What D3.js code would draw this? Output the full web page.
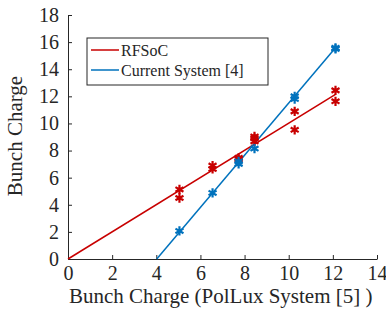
<!DOCTYPE html>
<html>
<head>
<meta charset="utf-8">
<script src="https://cdn.jsdelivr.net/npm/d3@7"></script>
<style>
  body { margin: 0; background: white; }
</style>
</head>
<body>
<div id="chart"></div>
<script>
// measured points (x = PolLux charge, y = measured charge)
const rfsocX = [5.05, 5.05, 6.55, 6.55, 7.73, 7.73, 8.45, 8.45, 8.45, 10.27, 10.27, 12.12, 12.12];
const rfsocY = [5.13, 4.5, 6.89, 6.64, 7.46, 7.35, 9.04, 8.9, 8.67, 10.89, 9.53, 12.44, 11.63];
const currentX = [5.05, 6.55, 7.73, 7.73, 8.45, 10.27, 10.27, 12.12, 12.12];
const currentY = [2.07, 4.87, 7.2, 7.01, 8.15, 12.0, 11.8, 15.58, 15.5];

// linear fits (end points)
const rfsocFitX = [0, 12.12];
const rfsocFitY = [0, 12.15];
const currentFitX = [4.02, 12.12];
const currentFitY = [0, 15.58];

const xTicks = [0, 2, 4, 6, 8, 10, 12, 14];
const yTicks = [0, 2, 4, 6, 8, 10, 12, 14, 16, 18];
const seriesNames = ["RFSoC", "Current System [4]"];
const colors = ["#C80000", "#0072BD"];

const serif = '"Liberation Serif"';

let width = 386, height = 309;
let margin = { top: 15, right: 9, bottom: 50, left: 68 };

let svg = d3.select('#chart')
    .append('svg')
    .attr('width', width)
    .attr('height', height)
    .style('background', 'white');

let xScale = d3.scaleLinear()
    .domain([0, 14])
    .range([margin.left, width - margin.right]);

let yScale = d3.scaleLinear()
    .domain([0, 18])
    .range([height - margin.bottom, margin.top]);

// axes, ticks point inward like matlab
let xaxis = svg.append('g')
    .attr('transform', `translate(0,${height - margin.bottom})`)
    .call(d3.axisBottom(xScale).tickValues(xTicks).tickSize(-4).tickPadding(7).tickSizeOuter(0));

let yaxis = svg.append('g')
    .attr('transform', `translate(${margin.left},0)`)
    .call(d3.axisLeft(yScale).tickValues(yTicks).tickSize(-4).tickPadding(9).tickSizeOuter(0));

[xaxis, yaxis].forEach(ax => {
  ax.attr('font-family', null).attr('font-size', null);
  ax.selectAll('path, line').attr('stroke', '#262626');
  ax.selectAll('text')
    .attr('fill', '#262626')
    .attr('font-family', serif)
    .attr('font-size', 20);
});

// axis labels
svg.append('text')
  .text('Bunch Charge (PolLux System [5] )')
  .attr('x', 69)
  .attr('y', 303)
  .attr('fill', '#262626')
  .attr('font-family', serif)
  .attr('font-size', 21);

svg.append('text')
  .text('Bunch Charge')
  .attr('transform', 'translate(22,136) rotate(-90)')
  .attr('text-anchor', 'middle')
  .attr('fill', '#262626')
  .attr('font-family', serif)
  .attr('font-size', 21);

// fit lines
const line = d3.line()
  .x(d => xScale(d[0]))
  .y(d => yScale(d[1]));

const fits = [
  d3.zip(rfsocFitX, rfsocFitY),
  d3.zip(currentFitX, currentFitY)
];

fits.forEach((f, i) => {
  svg.append('path')
    .datum(f)
    .attr('d', line)
    .attr('fill', 'none')
    .attr('stroke', colors[i])
    .attr('stroke-width', 1.5);
});

// markers
const star = d3.symbol().type(d3.symbolAsterisk).size(60);
const pts = [d3.zip(rfsocX, rfsocY), d3.zip(currentX, currentY)];

pts.forEach((p, i) => {
  svg.append('g')
    .selectAll('path')
    .data(p)
    .enter()
    .append('path')
    .attr('d', star)
    .attr('transform', d => `translate(${xScale(d[0])},${yScale(d[1])})`)
    .attr('fill', 'none')
    .attr('stroke', colors[i])
    .attr('stroke-width', 2.2);
});

// legend
const legend = svg.append('g')
  .attr('transform', 'translate(87,38)');

legend.append('rect')
  .attr('width', 181)
  .attr('height', 47)
  .attr('fill', 'white')
  .attr('stroke', '#262626')
  .attr('stroke-width', 1);

seriesNames.forEach((name, i) => {
  legend.append('line')
    .attr('x1', 4)
    .attr('x2', 32)
    .attr('y1', 12 + i * 20)
    .attr('y2', 12 + i * 20)
    .attr('stroke', colors[i])
    .attr('stroke-width', 1.5);

  legend.append('text')
    .text(name)
    .attr('x', 34)
    .attr('y', 12 + i * 20)
    .attr('dy', '0.35em')
    .attr('fill', '#262626')
    .attr('font-family', serif)
    .attr('font-size', 16);
});
</script>
</body>
</html>
